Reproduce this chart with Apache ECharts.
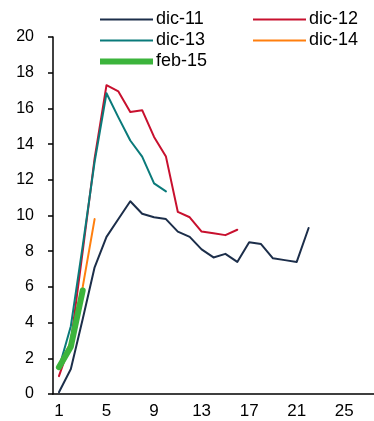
<!DOCTYPE html>
<html>
<head>
<meta charset="utf-8">
<script src="https://cdn.jsdelivr.net/npm/echarts@6/dist/echarts.min.js"></script>
<style>
  html, body { margin: 0; padding: 0; background: #fff; }
  #chart { width: 374px; height: 421px; }
</style>
</head>
<body>
<div id="chart"></div>
<script>
// categories 1..27 (days)
const days = [];
for (let i = 1; i <= 27; i++) days.push(String(i));

// series values
const dic11 = [0.1, 1.4, 4.2, 7.1, 8.8, 9.8, 10.8, 10.1, 9.9, 9.8, 9.1, 8.8, 8.1, 7.65, 7.85, 7.4, 8.5, 8.4, 7.6, 7.5, 7.4, 9.3];
const dic12 = [1.0, 2.9, 8.0, 13.2, 17.3, 16.95, 15.8, 15.9, 14.4, 13.3, 10.2, 9.9, 9.1, 9.0, 8.9, 9.2];
const dic13 = [1.45, 3.8, 8.3, 13.0, 16.85, 15.5, 14.2, 13.3, 11.8, 11.35];
const dic14 = [1.6, 2.9, 6.0, 9.8];
const feb15 = [1.5, 2.65, 5.8];

const names = ['dic-11', 'dic-12', 'dic-13', 'dic-14', 'feb-15'];
const colors = ['#1c2e4a', '#c8102e', '#0a7a7a', '#ff7f0e', '#3cb43c'];
const widths = [2, 2, 2, 2, 6];

const font = 'Liberation Sans, Arial, sans-serif';

function line(i, data) {
  return {
    name: names[i], type: 'line', data,
    symbol: 'none',
    z: i === 4 ? 5 : 2,
    lineStyle: { color: colors[i], width: widths[i], cap: 'round', join: 'round' },
    itemStyle: { color: colors[i] }
  };
}

function legendItem(i) {
  return { name: names[i], lineStyle: { width: widths[i], color: colors[i], cap: 'butt' } };
}

const legendBase = {
  orient: 'vertical',
  padding: 0,
  itemWidth: 53,
  itemHeight: 14,
  itemGap: 2,
  itemStyle: { opacity: 0 },
  textStyle: { fontFamily: font, fontSize: 18, lineHeight: 19, color: '#000', padding: [0, 0, 0, -2] }
};

const chart = echarts.init(document.getElementById('chart'));
chart.setOption({
  animation: false,
  backgroundColor: '#fff',
  color: colors,
  legend: [
    Object.assign({}, legendBase, { left: 97, top: 10, data: [legendItem(0), legendItem(2), legendItem(4)] }),
    Object.assign({}, legendBase, { left: 252, top: 10, data: [legendItem(1), legendItem(3)] })
  ],
  grid: { left: 53, right: 0, top: 37, bottom: 27, containLabel: false },
  xAxis: {
    type: 'category',
    data: days,
    boundaryGap: true,
    axisLine: { lineStyle: { color: '#000', width: 1.5 } },
    axisTick: { interval: 2, length: 5, lineStyle: { color: '#000', width: 1.5 } },
    axisLabel: { interval: 3, margin: 9, fontFamily: font, fontSize: 17, color: '#000' },
    splitLine: { show: false }
  },
  yAxis: {
    type: 'value',
    min: 0, max: 20, interval: 2,
    axisLine: { show: true, lineStyle: { color: '#000', width: 1.5 } },
    axisTick: { show: true, length: 5, lineStyle: { color: '#000', width: 1.5 } },
    axisLabel: { margin: 19, fontFamily: font, fontSize: 16, color: '#000' },
    splitLine: { show: false }
  },
  series: [
    line(0, dic11),
    line(1, dic12),
    line(2, dic13),
    line(3, dic14),
    line(4, feb15)
  ]
});
</script>
</body>
</html>
